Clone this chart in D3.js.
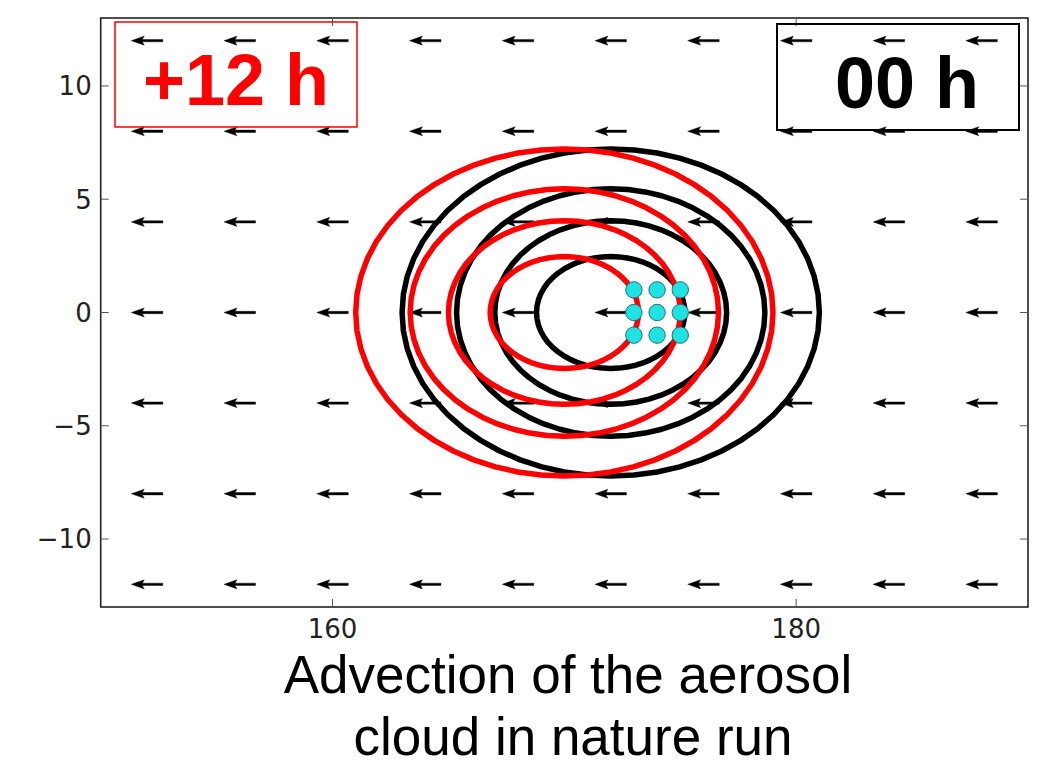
<!DOCTYPE html>
<html>
<head>
<meta charset="utf-8">
<script src="https://cdn.jsdelivr.net/npm/d3@7"></script>
<style>
  body { margin: 0; background: #fff; }
  svg { display: block; }
</style>
</head>
<body>
<div id="chart"></div>
<script>
// wind field (quiver), uniform easterly
const arrowLon = [152, 156, 160, 164, 168, 172, 176, 180, 184, 188];
const arrowLat = [-12, -8, -4, 0, 4, 8, 12];
const windU = -1;

// aerosol cloud contours: semi-axes (deg) of each contour level
const semiX = [9.0, 6.65, 5.0, 3.2];
const semiY = [7.22, 5.46, 4.05, 2.47];

// cloud centre at each time
const times = ["00 h", "+12 h"];
const centerLon = [172, 170];
const centerLat = [0, 0];
const timeColors = ["#000", "#ff0000"];

// observation points
const obsLon = [173, 174, 175];
const obsLat = [1, 0, -1];

const xTicks = [160, 180];
const yTicks = [-10, -5, 0, 5, 10];

const W = 1062, H = 766;
const x = d3.scaleLinear().domain([150, 190]).range([100.7, 1028]);
const y = d3.scaleLinear().domain([-13, 13]).range([607, 18]);

const svg = d3.select("#chart").append("svg")
	.attr("width", W)
	.attr("height", H);

// clip to the axes
svg.append("clipPath").attr("id", "clip")
	.append("rect")
	.attr("x", x(150)).attr("y", y(13))
	.attr("width", x(190) - x(150)).attr("height", y(-13) - y(13));

const plot = svg.append("g").attr("clip-path", "url(#clip)");

// quiver arrows, pivot in the middle
const quiverScale = 1.36; // data units per unit wind
const w = 2.4;            // shaft width px
const arrows = [];
arrowLat.forEach(lat => arrowLon.forEach(lon => arrows.push({lon, lat, u: windU})));

const arrowPath = d => {
	const x0 = x(d.lon - d.u * quiverScale / 2); // tail
	const x1 = x(d.lon + d.u * quiverScale / 2); // tip
	const cy = y(d.lat);
	const dir = Math.sign(x0 - x1); // +1 if pointing left
	const p = [
		[x1, cy],
		[x1 + dir * 5.4 * w, cy - 1.9 * w],
		[x1 + dir * 4.6 * w, cy - 0.5 * w],
		[x0, cy - 0.5 * w],
		[x0, cy + 0.5 * w],
		[x1 + dir * 4.6 * w, cy + 0.5 * w],
		[x1 + dir * 5.4 * w, cy + 1.9 * w]
	];
	return "M" + p.join("L") + "Z";
};

plot.append("g")
	.selectAll("path")
	.data(arrows)
	.join("path")
	.attr("d", arrowPath)
	.attr("fill", "#000")
	.attr("stroke", "#000")
	.attr("stroke-width", 0.4);

// contours
const angles = d3.range(0, 2 * Math.PI, Math.PI / 28);
const ring = d3.line().curve(d3.curveLinearClosed);

times.forEach((t, i) => {
	plot.append("g")
		.attr("class", "contours")
		.selectAll("path")
		.data(semiX.map((a, k) => ({a, b: semiY[k]})))
		.join("path")
		.attr("d", d => ring(angles.map(th => [
			x(centerLon[i] + d.a * Math.cos(th)),
			y(centerLat[i] + d.b * Math.sin(th))
		])))
		.attr("fill", "none")
		.attr("stroke", timeColors[i])
		.attr("stroke-width", 5.5)
		.attr("stroke-linejoin", "round");
});

// observation points
const obs = [];
obsLat.forEach(lat => obsLon.forEach(lon => obs.push({lon, lat})));
plot.append("g")
	.selectAll("circle")
	.data(obs)
	.join("circle")
	.attr("cx", d => x(d.lon))
	.attr("cy", d => y(d.lat))
	.attr("r", 8.2)
	.attr("fill", "#1fe3e3")
	.attr("stroke", "#2a6f6f")
	.attr("stroke-width", 1);

// frame
svg.append("rect")
	.attr("x", x(150)).attr("y", y(13))
	.attr("width", x(190) - x(150)).attr("height", y(-13) - y(13))
	.attr("fill", "none")
	.attr("stroke", "#222")
	.attr("stroke-width", 1.6);

// ticks (inward, all four sides)
const tickLen = 8;
const tk = svg.append("g").attr("stroke", "#555").attr("stroke-width", 1);
xTicks.forEach(v => {
	tk.append("line").attr("x1", x(v)).attr("x2", x(v)).attr("y1", y(-13)).attr("y2", y(-13) - tickLen);
	tk.append("line").attr("x1", x(v)).attr("x2", x(v)).attr("y1", y(13)).attr("y2", y(13) + tickLen);
});
yTicks.forEach(v => {
	tk.append("line").attr("y1", y(v)).attr("y2", y(v)).attr("x1", x(150)).attr("x2", x(150) + tickLen);
	tk.append("line").attr("y1", y(v)).attr("y2", y(v)).attr("x1", x(190)).attr("x2", x(190) - tickLen);
});

const fmt = v => (v < 0 ? "\u2212" + Math.abs(v) : String(v));

svg.append("g")
	.selectAll("text")
	.data(xTicks)
	.join("text")
	.attr("x", d => x(d))
	.attr("y", y(-13) + 31)
	.attr("text-anchor", "middle")
	.attr("font-family", "DejaVu Sans, sans-serif")
	.attr("font-size", 26)
	.attr("fill", "#222")
	.text(fmt);

svg.append("g")
	.selectAll("text")
	.data(yTicks)
	.join("text")
	.attr("x", x(150) - 9)
	.attr("y", d => y(d))
	.attr("dy", "0.36em")
	.attr("text-anchor", "end")
	.attr("font-family", "DejaVu Sans, sans-serif")
	.attr("font-size", 26)
	.attr("fill", "#222")
	.text(fmt);

// time labels
const boxes = [
	{label: times[1], color: timeColors[1], x0: 115, y0: 22, x1: 357, y1: 127, tx: 236, sw: 1.5},
	{label: times[0], color: timeColors[0], x0: 777, y0: 24, x1: 1019, y1: 130, tx: 907, sw: 2}
];
boxes.forEach(b => {
	svg.append("rect")
		.attr("x", b.x0).attr("y", b.y0)
		.attr("width", b.x1 - b.x0).attr("height", b.y1 - b.y0)
		.attr("fill", "none")
		.attr("stroke", b.color)
		.attr("stroke-width", b.sw);
	svg.append("text")
		.attr("x", b.tx)
		.attr("y", b.y1 - 22)
		.attr("text-anchor", "middle")
		.attr("font-family", "Liberation Sans, Arial, sans-serif")
		.attr("font-weight", "bold")
		.attr("font-size", 72)
		.attr("fill", b.color)
		.text(b.label);
});

// caption
const caption = ["Advection of the aerosol", "cloud in nature run"];
svg.append("g")
	.selectAll("text")
	.data(caption)
	.join("text")
	.attr("x", (d, i) => 568 + i * 5)
	.attr("y", (d, i) => 693 + i * 62)
	.attr("text-anchor", "middle")
	.attr("font-family", "Liberation Sans, Arial, sans-serif")
	.attr("font-size", 53)
	.attr("fill", "#000")
	.text(d => d);
</script>
</body>
</html>
